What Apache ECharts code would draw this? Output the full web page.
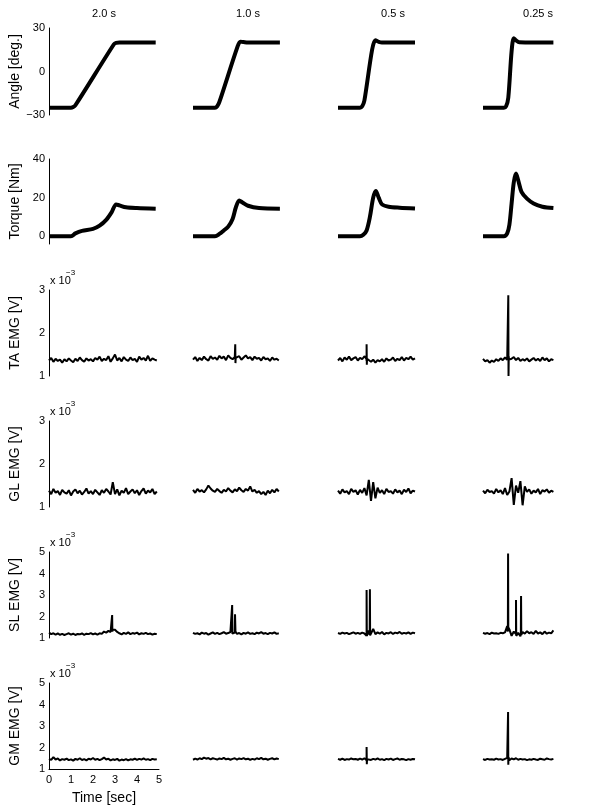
<!DOCTYPE html>
<html>
<head>
<meta charset="utf-8">
<script src="https://cdn.jsdelivr.net/npm/echarts@6/dist/echarts.min.js"></script>
<style>
html, body { margin: 0; padding: 0; background: #fff; }
#main { width: 600px; height: 807px; }
</style>
</head>
<body>
<div id="main"></div>
<script>
// column titles (movement durations)
var colTitles = ['2.0 s', '1.0 s', '0.5 s', '0.25 s'];
var rowNames = ['Angle [deg.]', 'Torque [Nm]', 'TA EMG [V]', 'GL EMG [V]', 'SL EMG [V]', 'GM EMG [V]'];
var timeTicks = [0, 1, 2, 3, 4, 5];

// angle [deg] : [t, value]
var angle1 = [[0,-25],[1.0,-25],[1.1,-24.5],[1.2,-23.3],[2.95,18.8],[3.05,19.8],[3.2,20],[4.85,20]];
var angle2 = [[0,-25],[1.0,-25],[1.1,-24],[1.2,-21],[2.02,17],[2.15,20.6],[2.3,20.3],[2.5,20],[3.95,20]];
var angle3 = [[0,-25],[1.0,-25],[1.1,-24],[1.2,-20],[1.55,15],[1.7,21.5],[1.85,20.5],[2.0,20],[3.5,20]];
var angle4 = [[0,-25],[0.95,-25],[1.05,-24],[1.15,-18],[1.3,14],[1.4,23],[1.5,21.5],[1.65,20.2],[3.2,20]];

// torque [Nm] : [t, value]
var torque1 = [[0,0],[1.0,0],[1.2,1.5],[1.5,2.8],[2.0,3.8],[2.3,5.5],[2.6,8.5],[2.85,12.5],[3.05,16.5],[3.2,16],[3.5,15],[4.0,14.6],[4.85,14.3]];
var torque2 = [[0,0],[1.0,0],[1.2,1.2],[1.4,3],[1.6,5],[1.8,9],[1.95,15],[2.1,18.5],[2.25,17.5],[2.5,15.8],[3.0,14.6],[3.95,14.3]];
var torque3 = [[0,0],[1.0,0],[1.15,0.8],[1.3,3],[1.45,10],[1.6,20],[1.72,23.5],[1.85,20],[2.0,16.5],[2.3,15.3],[2.8,14.8],[3.5,14.4]];
var torque4 = [[0,0],[0.95,0],[1.1,1.5],[1.2,6],[1.3,17],[1.4,28],[1.5,32.5],[1.6,29],[1.75,23],[2.0,19.5],[2.3,17],[2.7,15.3],[3.2,14.6]];

// EMG [x 10^-3 V], sampled every 0.1 s from t = 0
var ta1 = [1.36,1.42,1.33,1.40,1.35,1.38,1.31,1.39,1.34,1.41,1.36,1.32,1.40,1.35,1.43,1.37,1.33,1.41,1.36,1.39,
           1.34,1.42,1.38,1.45,1.35,1.40,1.37,1.46,1.33,1.41,1.50,1.36,1.42,1.34,1.44,1.38,1.35,1.43,1.37,1.40,
           1.33,1.45,1.38,1.42,1.36,1.47,1.35,1.41,1.38,1.36];
var ta2 = [1.38,1.44,1.35,1.42,1.37,1.45,1.39,1.36,1.46,1.40,1.43,1.38,1.47,1.41,1.45,1.37,1.48,1.42,1.39,1.44,
           1.40,1.46,1.38,1.43,1.48,1.41,1.44,1.37,1.45,1.40,1.42,1.36,1.44,1.39,1.41,1.35,1.43,1.38,1.40,1.36];
var ta3 = [1.36,1.42,1.34,1.43,1.38,1.45,1.37,1.41,1.44,1.36,1.42,1.39,1.46,1.35,1.40,1.33,1.38,1.31,1.37,1.34,
           1.39,1.33,1.41,1.36,1.38,1.43,1.35,1.40,1.37,1.44,1.36,1.42,1.39,1.45,1.38,1.41];
var ta4 = [1.40,1.34,1.37,1.31,1.36,1.33,1.39,1.35,1.41,1.37,1.43,1.38,1.34,1.40,1.44,1.37,1.42,1.35,1.39,1.36,
           1.41,1.34,1.38,1.42,1.36,1.40,1.35,1.43,1.37,1.41,1.34,1.39,1.37];

var gl1 = [1.38,1.30,1.42,1.33,1.37,1.28,1.40,1.34,1.31,1.39,1.27,1.36,1.41,1.32,1.38,1.29,1.35,1.43,1.31,1.37,
           1.30,1.40,1.34,1.28,1.39,1.33,1.42,1.36,1.29,1.58,1.30,1.41,1.27,1.38,1.33,1.44,1.30,1.36,1.41,1.32,
           1.39,1.28,1.37,1.43,1.31,1.38,1.34,1.42,1.30,1.36];
var gl2 = [1.40,1.33,1.42,1.36,1.39,1.34,1.41,1.50,1.43,1.38,1.35,1.42,1.37,1.33,1.40,1.36,1.44,1.38,1.34,1.41,
           1.37,1.45,1.39,1.35,1.42,1.38,1.48,1.36,1.40,1.33,1.37,1.30,1.35,1.28,1.38,1.32,1.40,1.34,1.42,1.36];
var gl3 = [1.38,1.31,1.41,1.34,1.37,1.30,1.42,1.35,1.39,1.29,1.40,1.33,1.44,1.27,1.63,1.14,1.58,1.20,1.45,1.33,
           1.39,1.30,1.42,1.35,1.37,1.31,1.41,1.34,1.38,1.30,1.40,1.35,1.43,1.32,1.38,1.36];
var gl4 = [1.38,1.32,1.40,1.35,1.37,1.31,1.42,1.34,1.39,1.30,1.44,1.28,1.36,1.67,1.05,1.50,1.33,1.60,1.04,1.48,
           1.35,1.41,1.31,1.38,1.34,1.42,1.30,1.39,1.36,1.41,1.33,1.38,1.35];

var sl1 = [1.25,1.18,1.22,1.16,1.21,1.15,1.19,1.14,1.18,1.22,1.16,1.20,1.14,1.19,1.17,1.21,1.15,1.20,1.18,1.23,
           1.17,1.21,1.16,1.22,1.19,1.30,1.25,1.33,1.28,1.45,1.38,1.28,1.22,1.17,1.24,1.19,1.26,1.18,1.23,1.20,
           1.25,1.17,1.22,1.19,1.24,1.18,1.21,1.16,1.20,1.18];
var sl2 = [1.24,1.19,1.22,1.17,1.25,1.20,1.23,1.16,1.21,1.26,1.19,1.24,1.18,1.22,1.27,1.20,1.23,1.28,1.21,1.25,
           1.19,1.23,1.17,1.24,1.20,1.26,1.19,1.22,1.18,1.25,1.21,1.27,1.20,1.23,1.18,1.24,1.21,1.26,1.19,1.22];
var sl3 = [1.23,1.19,1.25,1.21,1.24,1.18,1.22,1.26,1.20,1.24,1.19,1.25,1.21,1.10,1.35,1.15,1.42,1.18,1.26,1.20,
           1.28,1.17,1.24,1.21,1.27,1.19,1.25,1.22,1.28,1.20,1.24,1.21,1.26,1.19,1.25,1.22];
var sl4 = [1.24,1.20,1.23,1.18,1.25,1.21,1.22,1.19,1.24,1.22,1.26,1.55,1.40,1.10,1.30,1.18,1.24,1.08,1.28,1.20,
           1.32,1.22,1.27,1.19,1.33,1.21,1.26,1.18,1.30,1.20,1.25,1.22,1.35];

var gm1 = [1.47,1.42,1.55,1.44,1.49,1.40,1.46,1.43,1.48,1.41,1.45,1.39,1.47,1.43,1.50,1.42,1.46,1.40,1.48,1.44,
           1.51,1.43,1.47,1.41,1.46,1.53,1.44,1.48,1.40,1.45,1.42,1.47,1.39,1.44,1.41,1.46,1.40,1.45,1.43,1.48,
           1.42,1.47,1.44,1.49,1.43,1.46,1.41,1.47,1.44,1.45];
var gm2 = [1.43,1.48,1.44,1.50,1.46,1.53,1.48,1.51,1.45,1.50,1.47,1.44,1.49,1.46,1.52,1.45,1.48,1.43,1.47,1.50,
           1.44,1.49,1.46,1.51,1.45,1.48,1.42,1.47,1.44,1.50,1.46,1.52,1.45,1.48,1.43,1.47,1.50,1.45,1.49,1.46];
var gm3 = [1.47,1.43,1.48,1.42,1.46,1.44,1.49,1.45,1.47,1.43,1.48,1.44,1.50,1.40,1.52,1.42,1.47,1.44,1.49,1.43,
           1.46,1.41,1.47,1.44,1.48,1.42,1.46,1.49,1.43,1.47,1.45,1.41,1.46,1.43,1.47,1.45];
var gm4 = [1.46,1.42,1.47,1.44,1.45,1.43,1.48,1.44,1.46,1.42,1.47,1.52,1.41,1.49,1.45,1.50,1.43,1.47,1.44,1.46,
           1.41,1.45,1.43,1.47,1.44,1.42,1.48,1.45,1.43,1.49,1.46,1.44,1.47];

// short EMG bursts [t, value]
var taSpikes = [[], [[1.91,1.40],[1.92,1.74],[1.93,1.30],[1.94,1.42]],
                [[1.29,1.40],[1.30,1.74],[1.31,1.26],[1.32,1.40]],
                [[1.14,1.42],[1.15,2.88],[1.16,1.0],[1.17,1.45],[1.18,1.38]]];
var glSpikes = [[], [], [], []];
var slSpikes = [[[2.86,1.30],[2.87,2.07],[2.88,1.30],[2.89,1.40]],
                [[1.77,1.22],[1.78,2.53],[1.79,1.20],[1.90,1.24],[1.91,2.10],[1.93,1.30]],
                [[1.29,1.20],[1.30,3.23],[1.31,1.10],[1.44,1.15],[1.45,3.27],[1.46,1.12]],
                [[1.13,1.30],[1.14,4.93],[1.15,1.50],[1.49,1.25],[1.50,2.77],[1.51,1.10],[1.72,1.22],[1.73,2.95],[1.74,1.15]]];
var gmSpikes = [[], [], [[1.29,1.45],[1.30,2.02],[1.31,1.22],[1.32,1.46]],
                [[1.13,1.45],[1.14,3.65],[1.15,1.20],[1.16,1.55]]];

var FONT = '"Liberation Sans", Arial, Helvetica, sans-serif';
var colLefts = [49, 193, 338, 483];
var colWidth = 110;
var rowTops = [28, 159, 290, 421, 552, 683];
var rowHeights = [87, 85, 86, 86, 86, 86];
var rowAxis = [
    {min: -30, max: 30, interval: 30},
    {min: -4, max: 40, interval: 4},
    {min: 1, max: 3, interval: 1},
    {min: 1, max: 3, interval: 1},
    {min: 1, max: 5, interval: 1},
    {min: 1, max: 5, interval: 1}
];

function emg(values, spikes) {
    var pts = values.map(function (v, i) { return [i / 10, v]; });
    pts = pts.concat(spikes);
    pts.sort(function (a, b) { return a[0] - b[0]; });
    return pts;
}

var rowData = [
    [angle1, angle2, angle3, angle4],
    [torque1, torque2, torque3, torque4],
    [emg(ta1, taSpikes[0]), emg(ta2, taSpikes[1]), emg(ta3, taSpikes[2]), emg(ta4, taSpikes[3])],
    [emg(gl1, glSpikes[0]), emg(gl2, glSpikes[1]), emg(gl3, glSpikes[2]), emg(gl4, glSpikes[3])],
    [emg(sl1, slSpikes[0]), emg(sl2, slSpikes[1]), emg(sl3, slSpikes[2]), emg(sl4, slSpikes[3])],
    [emg(gm1, gmSpikes[0]), emg(gm2, gmSpikes[1]), emg(gm3, gmSpikes[2]), emg(gm4, gmSpikes[3])]
];

var grids = [], xAxes = [], yAxes = [], series = [], graphics = [];

for (var r = 0; r < 6; r++) {
    for (var c = 0; c < 4; c++) {
        var idx = grids.length;
        grids.push({left: colLefts[c], top: rowTops[r], width: colWidth, height: rowHeights[r]});
        var showX = (r === 5 && c === 0);
        xAxes.push({
            gridIndex: idx, type: 'value', min: 0, max: 5, interval: 1,
            show: showX,
            axisLine: {onZero: false, lineStyle: {color: '#000', width: 1}},
            axisTick: {show: false},
            splitLine: {show: false},
            axisLabel: {color: '#000', fontSize: 11, fontFamily: FONT, margin: 5},
            name: showX ? 'Time [sec]' : '',
            nameLocation: 'middle', nameGap: 22,
            nameTextStyle: {color: '#000', fontSize: 14, fontFamily: FONT}
        });
        var ax = rowAxis[r];
        yAxes.push({
            gridIndex: idx, type: 'value', min: ax.min, max: ax.max, interval: ax.interval,
            show: c === 0,
            axisLine: {show: true, onZero: false, lineStyle: {color: '#000', width: 1}},
            axisTick: {show: false},
            splitLine: {show: false},
            axisLabel: {
                color: '#000', fontSize: 11, fontFamily: FONT, margin: 4,
                formatter: (function (row) {
                    return function (v) {
                        if (row === 1 && v % 20 !== 0) return '';
                        return v < 0 ? '\u2212' + (-v) : String(v);
                    };
                })(r)
            },
            name: c === 0 ? rowNames[r] : '',
            nameLocation: 'middle', nameRotate: 90, nameGap: 27,
            nameTextStyle: {color: '#000', fontSize: 14, fontFamily: FONT}
        });
        series.push({
            type: 'line', xAxisIndex: idx, yAxisIndex: idx,
            data: rowData[r][c],
            showSymbol: false,
            smooth: r < 2 ? 0.3 : false,
            lineStyle: {color: '#000', width: r < 2 ? 4 : 2},
            clip: false
        });
    }
}

for (var c2 = 0; c2 < 4; c2++) {
    graphics.push({
        type: 'text', x: colLefts[c2] + colWidth / 2, y: 14,
        style: {text: colTitles[c2], fill: '#000', font: '11px ' + FONT, align: 'center', verticalAlign: 'middle'}
    });
}
for (var r2 = 2; r2 < 6; r2++) {
    graphics.push({
        type: 'text', x: 50, y: rowTops[r2] - 9,
        style: {text: 'x 10', fill: '#000', font: '11px ' + FONT, align: 'left', verticalAlign: 'middle'}
    });
    graphics.push({
        type: 'text', x: 66, y: rowTops[r2] - 17,
        style: {text: '\u22123', fill: '#000', font: '8px ' + FONT, align: 'left', verticalAlign: 'middle'}
    });
}

var myChart = echarts.init(document.getElementById('main'));
myChart.setOption({
    animation: false,
    backgroundColor: '#fff',
    grid: grids,
    xAxis: xAxes,
    yAxis: yAxes,
    series: series,
    graphic: graphics
});
</script>
</body>
</html>
